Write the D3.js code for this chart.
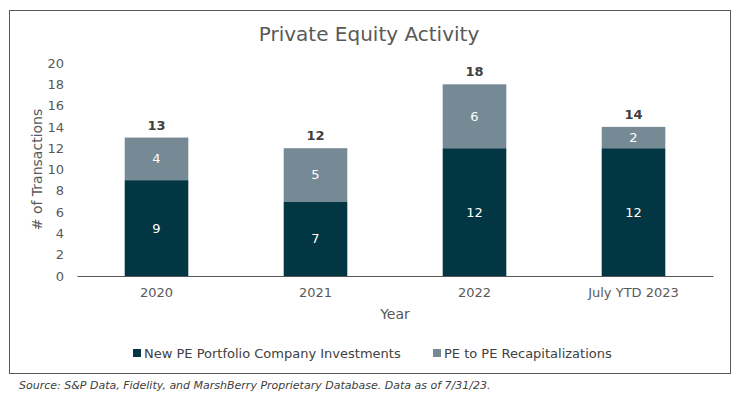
<!DOCTYPE html>
<html>
<head>
<meta charset="utf-8">
<script src="https://cdn.jsdelivr.net/npm/d3@7"></script>
<style>
  body { margin: 0; background: #fff; }
  text { font-family: Verdana, "DejaVu Sans", sans-serif; }
</style>
</head>
<body>
<div id="chart"></div>
<script>
const years = ["2020", "2021", "2022", "July YTD 2023"];
const newInvestments = [9, 7, 12, 12];
const recaps = [4, 5, 6, 2];
const yTicks = [0, 2, 4, 6, 8, 10, 12, 14, 16, 18, 20];
const seriesNames = ["New PE Portfolio Company Investments", "PE to PE Recapitalizations"];
const colors = ["#023642", "#758a95"];

const W = 739, H = 398;
const margin = { top: 63, right: 26, bottom: 122, left: 77 },
    width = W - margin.left - margin.right,
    height = H - margin.top - margin.bottom;

const svg = d3.select("#chart")
    .append("svg")
    .attr("width", W)
    .attr("height", H);

// outer frame
svg.append("rect")
    .attr("x", 9.5).attr("y", 10.5)
    .attr("width", 721).attr("height", 363)
    .attr("fill", "none")
    .attr("stroke", "#595959")
    .attr("stroke-width", 1);

svg.append("text")
    .attr("x", 369)
    .attr("y", 41)
    .attr("text-anchor", "middle")
    .style("font-size", "20px")
    .attr("fill", "#595959")
    .text("Private Equity Activity");

const g = svg.append("g")
    .attr("transform", `translate(${margin.left},${margin.top})`);

const data = years.map((y, i) => ({ year: y, a: newInvestments[i], b: recaps[i] }));

const x = d3.scaleBand()
    .domain(years)
    .range([0, width])
    .paddingInner(0.6)
    .paddingOuter(0.3);

const y = d3.scaleLinear()
    .domain([0, 20])
    .range([height, 0]);

// y axis (labels only)
const yAxis = g.append("g")
    .call(d3.axisLeft(y).tickValues(yTicks).tickSize(0).tickPadding(13));
yAxis.select(".domain").remove();
yAxis.selectAll("text")
    .style("font-size", "13px")
    .style("font-family", "Verdana, 'DejaVu Sans', sans-serif")
    .attr("fill", "#595959");

const stack = d3.stack().keys(["a", "b"])(data);

g.selectAll(".layer")
    .data(stack)
    .enter()
    .append("g")
    .attr("fill", (d, i) => colors[i])
    .selectAll("rect")
    .data(d => d)
    .enter()
    .append("rect")
    .attr("x", d => x(d.data.year))
    .attr("y", d => y(d[1]))
    .attr("width", x.bandwidth())
    .attr("height", d => y(d[0]) - y(d[1]));

// segment labels
stack.forEach(layer => {
    g.selectAll(null)
        .data(layer)
        .enter()
        .append("text")
        .attr("x", d => x(d.data.year) + x.bandwidth() / 2)
        .attr("y", d => (y(d[0]) + y(d[1])) / 2)
        .attr("dy", "0.35em")
        .attr("text-anchor", "middle")
        .style("font-size", "13px")
        .attr("fill", "#ffffff")
        .text(d => d[1] - d[0]);
});

// totals
g.selectAll(".total")
    .data(data)
    .enter()
    .append("text")
    .attr("x", d => x(d.year) + x.bandwidth() / 2)
    .attr("y", d => y(d.a + d.b) - 8)
    .attr("text-anchor", "middle")
    .style("font-size", "13px")
    .style("font-weight", "bold")
    .attr("fill", "#404040")
    .text(d => d.a + d.b);

// x axis
const xAxis = g.append("g")
    .attr("transform", `translate(0,${height})`)
    .call(d3.axisBottom(x).tickSize(0).tickPadding(12));
xAxis.select(".domain").attr("stroke", "#595959");
xAxis.selectAll("text")
    .style("font-size", "13px")
    .style("font-family", "Verdana, 'DejaVu Sans', sans-serif")
    .attr("fill", "#595959");

g.append("text")
    .attr("x", width / 2)
    .attr("y", height + 43)
    .attr("text-anchor", "middle")
    .style("font-size", "14px")
    .attr("fill", "#595959")
    .text("Year");

g.append("text")
    .attr("transform", "rotate(-90)")
    .attr("x", -height / 2)
    .attr("y", -35)
    .attr("text-anchor", "middle")
    .style("font-size", "14px")
    .attr("fill", "#595959")
    .text("# of Transactions");

// legend
const legendX = [133, 433];
const legend = svg.selectAll(".legend")
    .data(seriesNames)
    .enter()
    .append("g")
    .attr("transform", (d, i) => `translate(${legendX[i]},349)`);
legend.append("rect")
    .attr("width", 8).attr("height", 8)
    .attr("fill", (d, i) => colors[i]);
legend.append("text")
    .attr("x", 11)
    .attr("y", 8.5)
    .style("font-size", "13px")
    .attr("fill", "#404040")
    .text(d => d);

svg.append("text")
    .attr("x", 19)
    .attr("y", 389)
    .style("font-size", "11px")
    .style("font-style", "italic")
    .attr("fill", "#404040")
    .text("Source: S&P Data, Fidelity, and MarshBerry Proprietary Database. Data as of 7/31/23.");
</script>
</body>
</html>
